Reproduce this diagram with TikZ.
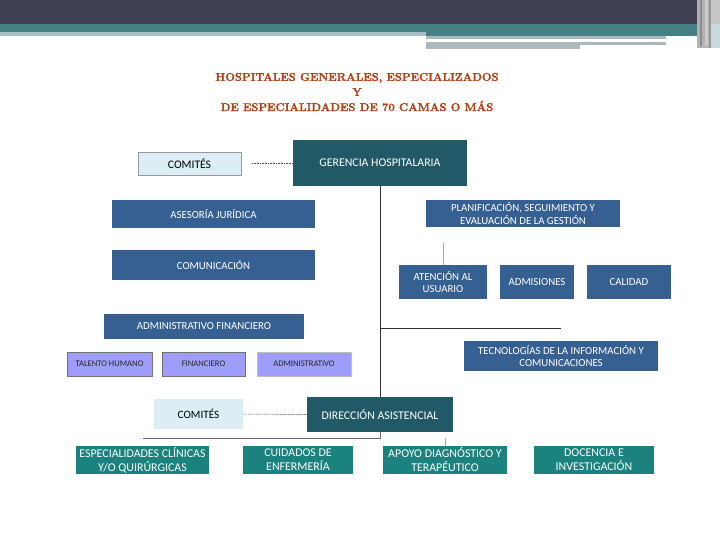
\documentclass[tikz,border=0pt]{standalone}
\usepackage{fontspec}
\setmainfont{Carlito}
\newfontfamily\titlefont[BoldFeatures={FakeBold=1.6}]{Latin Modern Roman}
\definecolor{hdark}{RGB}{65,65,85}
\definecolor{hteal}{RGB}{70,128,132}
\definecolor{hlight}{RGB}{165,192,195}
\definecolor{hgrey}{RGB}{170,185,190}
\definecolor{dteal}{RGB}{33,89,103}
\definecolor{bblue}{RGB}{54,96,146}
\definecolor{lav}{RGB}{158,158,250}
\definecolor{lblue}{RGB}{218,238,243}
\definecolor{gteal}{RGB}{28,130,126}
\definecolor{ttl}{RGB}{175,65,20}
\tikzset{
  darkbox/.style={fill=dteal, text=white, font=\fontsize{11.8}{13}\selectfont},
  bluebox/.style={fill=bblue, text=white, font=\fontsize{10.8}{12.5}\selectfont},
  lavbox/.style={fill=lav, draw=black!55, line width=0.6pt, text=black!85, font=\fontsize{8.6}{10}\selectfont},
  combox/.style={fill=lblue, text=black, font=\fontsize{11.6}{13}\selectfont},
  tealbox/.style={fill=gteal, text=white, font=\fontsize{11.9}{14}\selectfont},
  ttlstyle/.style={ttl, inner sep=0pt, font=\titlefont\bfseries\fontsize{11.3}{13}\selectfont},
  link/.style={black!80, line width=0.6pt},
  thin link/.style={black!35, line width=0.5pt},
  dots/.style={black!70, line width=0.5pt, dash pattern=on 1pt off 0.6pt},
}
\begin{document}
\begin{tikzpicture}[x=1pt,y=-1pt]
\useasboundingbox (0,0) rectangle (720,540);
% header bands
\fill[hdark] (0,0) rectangle (720,24);
\fill[hteal] (0,24) rectangle (720,32);
\fill[hlight] (0,32) rectangle (426,36);
\fill[hteal] (426,32) rectangle (720,36);
\fill[hgrey] (426,36) rectangle (666,39);
\fill[hgrey] (426,42) rectangle (666,45);
\fill[hgrey] (426,45) rectangle (580,49);
\fill[black!30] (697,0) rectangle (720,48);
\fill[black!45] (700,0) rectangle (702,46);
\fill[black!20] (705,0) rectangle (708,46);
\fill[black!40] (709,0) rectangle (711,48);
\fill[black!22] (711,0) rectangle (720,24);
\fill[hlight!60] (711,24) rectangle (720,48);
% title
\node[ttlstyle] (t1) at (357,78) {HOSPITALES GENERALES, ESPECIALIZADOS};
\node[ttlstyle] (t2) at (357,92) {Y};
\node[ttlstyle] (t3) at (357,106) {DE ESPECIALIDADES DE 70 CAMAS O MÁS};
% boxes
\node[combox, draw=black!40, line width=0.5pt, minimum width=103pt, minimum height=23pt, inner sep=0pt] (com1) at (189.5,163.5) {COMITÉS};
\node[darkbox, minimum width=174pt, minimum height=46pt, inner sep=0pt] (ger) at (380,163) {GERENCIA HOSPITALARIA};
\node[bluebox, minimum width=203pt, minimum height=28pt, inner sep=0pt] (ase) at (213.5,214) {ASESORÍA JURÍDICA};
\node[bluebox, minimum width=203pt, minimum height=30pt, inner sep=0pt] (comu) at (213.5,265) {COMUNICACIÓN};
\node[bluebox, minimum width=200pt, minimum height=25pt, inner sep=0pt] (adm) at (204,326.5) {ADMINISTRATIVO FINANCIERO};
\node[lavbox, minimum width=85pt, minimum height=24pt, inner sep=0pt] (tal) at (109.5,364) {TALENTO HUMANO};
\node[lavbox, minimum width=83pt, minimum height=24pt, inner sep=0pt] (fin) at (203.5,364) {FINANCIERO};
\node[lavbox, draw=black!25, minimum width=94pt, minimum height=24pt, inner sep=0pt] (admi) at (304,364) {ADMINISTRATIVO};
\node[bluebox, minimum width=194pt, minimum height=27pt, inner sep=0pt, align=center] (plan) at (523,213.5) {PLANIFICACIÓN, SEGUIMIENTO Y\\EVALUACIÓN DE LA GESTIÓN};
\node[bluebox, minimum width=88pt, minimum height=34pt, inner sep=0pt, align=center] (aten) at (443,282) {ATENCIÓN AL\\USUARIO};
\node[bluebox, minimum width=74pt, minimum height=34pt, inner sep=0pt] (admis) at (537,282) {ADMISIONES};
\node[bluebox, minimum width=84pt, minimum height=34pt, inner sep=0pt] (cal) at (629,282) {CALIDAD};
\node[bluebox, minimum width=194pt, minimum height=30pt, inner sep=0pt, align=center] (tec) at (561,356) {TECNOLOGÍAS DE LA INFORMACIÓN Y\\COMUNICACIONES};
\node[combox, font=\fontsize{11.2}{13}\selectfont, minimum width=89pt, minimum height=30pt, inner sep=0pt] (com2) at (198.5,414) {COMITÉS};
\node[darkbox, minimum width=146pt, minimum height=35pt, inner sep=0pt] (dir) at (380,414.5) {DIRECCIÓN ASISTENCIAL};
\node[tealbox, minimum width=133pt, minimum height=28pt, inner sep=0pt, align=center] (esp) at (142.5,460) {ESPECIALIDADES CLÍNICAS\\Y/O QUIRÚRGICAS};
\node[tealbox, minimum width=110pt, minimum height=28pt, inner sep=0pt, align=center] (cui) at (298,460) {CUIDADOS DE\\ENFERMERÍA};
\node[tealbox, minimum width=124pt, minimum height=28pt, inner sep=0pt, align=center] (apo) at (445,460) {APOYO DIAGNÓSTICO Y\\TERAPÉUTICO};
\node[tealbox, minimum width=120pt, minimum height=28pt, inner sep=0pt, align=center] (doc) at (594,460) {DOCENCIA E\\INVESTIGACIÓN};
% connectors
\coordinate (c1) at (252,163);
\draw[dots] (c1) -- (ger.west);
\draw[dots] (com2.east) -- (dir.west);
\draw[link] (ger.south) -- (dir.north);
\coordinate (h1) at (561,328);
\draw[link] (ger.south |- h1) -- (h1);
\coordinate (a1) at (443,243);
\draw[thin link] (aten.north) -- (a1);
\coordinate (b1) at (143,438);
\draw[link, black!60] (dir.south) |- (b1);
\coordinate (p1) at (445,438);
\draw[thin link] (apo.north) -- (p1);
\end{tikzpicture}
\end{document}
